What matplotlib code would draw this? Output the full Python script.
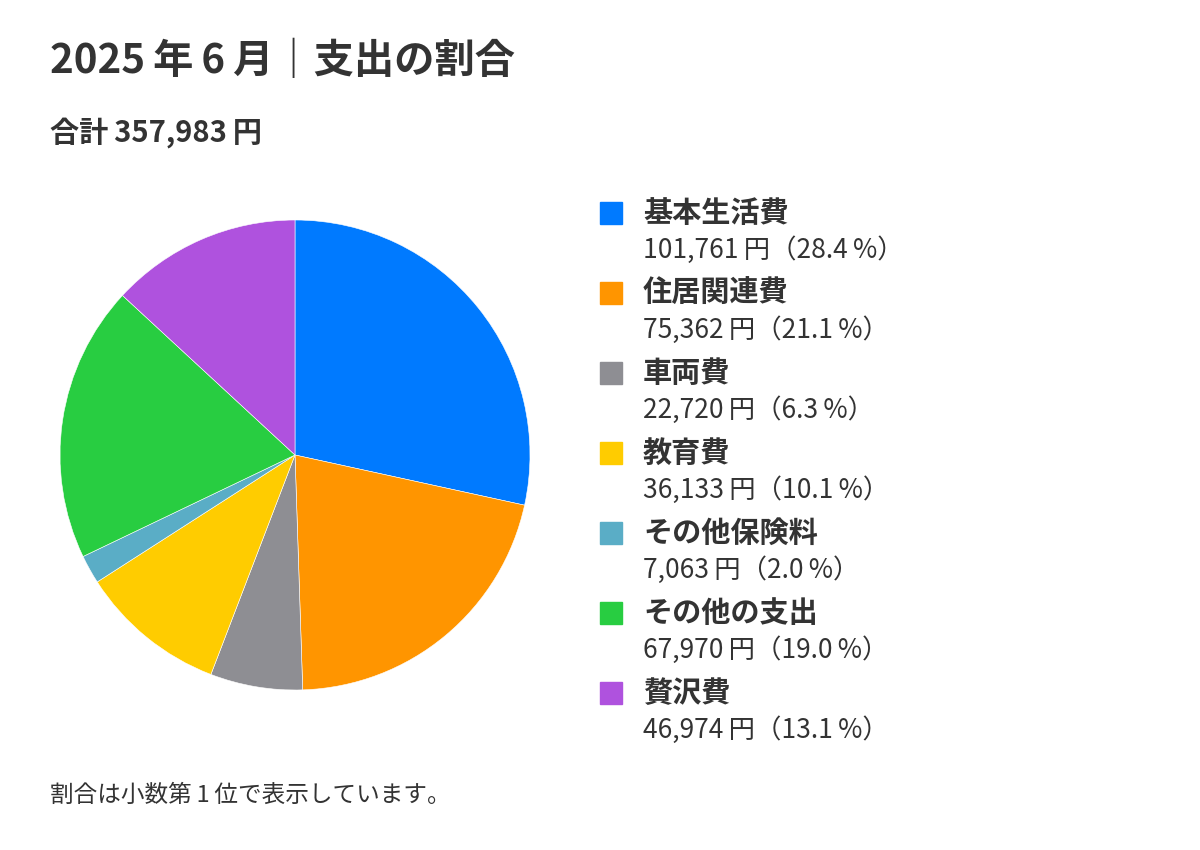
import matplotlib.pyplot as plt
from matplotlib.patches import Rectangle

plt.rcParams['font.family'] = ['Noto Sans CJK JP', 'DejaVu Sans']

# ---------------------------------------------------------------------------
# Data
# ---------------------------------------------------------------------------
categories = ["基本生活費", "住居関連費", "車両費", "教育費",
              "その他保険料", "その他の支出", "贅沢費"]
amounts = [101761, 75362, 22720, 36133, 7063, 67970, 46974]
colors = ["#007AFF", "#FF9500", "#8E8E93", "#FFCC00",
          "#5AADC6", "#28CD41", "#AF52DE"]

TITLE = "2025\u2009年\u20096\u2009月｜支出の割合"
NOTE = "割合は小数第\u20091\u2009位で表示しています。"
TEXT_COLOR = "#333333"

W, H = 1200, 850
total = sum(amounts)

fig = plt.figure(figsize=(W / 100, H / 100), dpi=100)
fig.patch.set_facecolor("white")


def fx(px):
    return px / W


def fy(py):
    return 1 - py / H


# --- titles ---
fig.text(fx(50), fy(62), TITLE, fontsize=29, fontweight="bold",
         color=TEXT_COLOR, va="center", ha="left")
fig.text(fx(50), fy(133), f"合計\u2009{total:,}\u2009円", fontsize=21,
         fontweight="bold", color=TEXT_COLOR, va="center", ha="left")
fig.text(fx(50), fy(795), NOTE, fontsize=17, color=TEXT_COLOR,
         va="center", ha="left")

# --- pie ---
cx, cy, r = 295, 455, 235
ax = fig.add_axes([fx(cx - r), fy(cy + r), 2 * r / W, 2 * r / H])
ax.pie(amounts, colors=colors, startangle=90, counterclock=False,
       wedgeprops=dict(edgecolor="white", linewidth=0.4))
ax.set_aspect("equal")
ax.set_xlim(-1, 1)
ax.set_ylim(-1, 1)
ax.axis("off")

# --- legend ---
row0, step = 213, 80
for i, (name, amt, col) in enumerate(zip(categories, amounts, colors)):
    y = row0 + i * step
    fig.patches.append(Rectangle((fx(600), fy(y + 11)), 22 / W, 22 / H,
                                 transform=fig.transFigure, color=col))
    fig.text(fx(643), fy(y), name, fontsize=21, fontweight="bold",
             color=TEXT_COLOR, va="center", ha="left")
    pct = amt / total * 100
    fig.text(fx(643), fy(y + 37), f"{amt:,}\u2009円（{pct:.1f}\u2009%）",
             fontsize=19, color=TEXT_COLOR, va="center", ha="left")

fig.savefig("out.png", dpi=100, facecolor="white")
